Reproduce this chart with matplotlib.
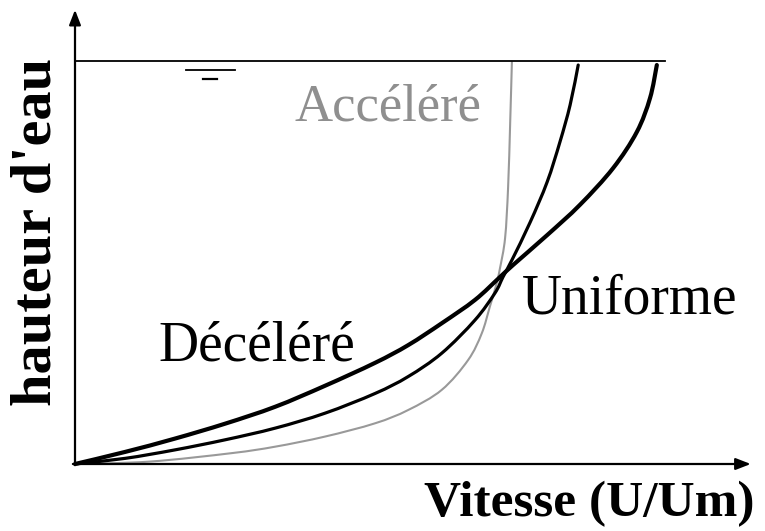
import matplotlib
matplotlib.use("Agg")
import matplotlib.pyplot as plt
from matplotlib.path import Path
from matplotlib.patches import PathPatch

# Velocity profiles (x = U/Um, y = relative water depth)
decel_x = [0, 0.118, 0.235, 0.353, 0.471, 0.588, 0.706, 0.784, 0.864, 0.941, 1.000, 1.031, 1.111, 1.188, 1.266, 1.322, 1.353, 1.369]
decel_y = [0, 0.030, 0.063, 0.100, 0.142, 0.194, 0.251, 0.295, 0.350, 0.407, 0.464, 0.494, 0.568, 0.643, 0.734, 0.824, 0.908, 0.990]

unif_x = [0, 0.118, 0.235, 0.353, 0.471, 0.588, 0.706, 0.784, 0.863, 0.941, 0.988, 1.007, 1.028, 1.071, 1.111, 1.141, 1.165, 1.184]
unif_y = [0, 0.014, 0.035, 0.060, 0.089, 0.126, 0.175, 0.217, 0.275, 0.357, 0.424, 0.464, 0.506, 0.600, 0.700, 0.799, 0.891, 0.990]

accel_x = [0, 0.176, 0.369, 0.471, 0.588, 0.706, 0.784, 0.863, 0.925, 0.957, 0.976, 0.991, 1.000, 1.012, 1.019, 1.024, 1.028]
accel_y = [0, 0.006, 0.027, 0.043, 0.068, 0.101, 0.134, 0.184, 0.258, 0.324, 0.390, 0.444, 0.486, 0.561, 0.685, 0.849, 0.998]

surface_level = 1.0
surface_end = 1.388
labels = ["Accéléré", "Uniforme", "Décéléré"]
xlabel = "Vitesse (U/Um)"
ylabel = "hauteur d'eau"

W, H = 765, 531
fig = plt.figure(figsize=(W / 100, H / 100), dpi=100)
ax = fig.add_axes([0, 0, 1, 1])
ox, oy, sx, sy = 75, 464, 425, 403
ax.set_xlim((0 - ox) / sx, (W - ox) / sx)
ax.set_ylim((oy - H) / sy, oy / sy)
ax.axis("off")

serif = ["Liberation Serif", "DejaVu Serif"]


def smooth_path(xs, ys):
    """Catmull-Rom curve through the points, drawn as cubic Bezier segments."""
    pts = list(zip(xs, ys))
    verts = [pts[0]]
    codes = [Path.MOVETO]
    n = len(pts)
    for i in range(n - 1):
        p0 = pts[i - 1] if i > 0 else pts[i]
        p1 = pts[i]
        p2 = pts[i + 1]
        p3 = pts[i + 2] if i + 2 < n else pts[i + 1]
        c1 = (p1[0] + (p2[0] - p0[0]) / 6, p1[1] + (p2[1] - p0[1]) / 6)
        c2 = (p2[0] - (p3[0] - p1[0]) / 6, p2[1] - (p3[1] - p1[1]) / 6)
        verts += [c1, c2, p2]
        codes += [Path.CURVE4] * 3
    return Path(verts, codes)


# water surface
ax.plot([0, surface_end], [surface_level, surface_level], color="black", lw=1.3)
ax.plot([0.261, 0.376], [0.978, 0.978], color="black", lw=1.3)
ax.plot([0.301, 0.334], [0.955, 0.955], color="black", lw=1.6)

# axes with arrows
ax.annotate("", xy=(1.590, 0), xytext=(-0.005, 0),
            arrowprops=dict(arrowstyle="-|>,head_length=0.9,head_width=0.35", color="black", lw=1.6,
                            shrinkA=0, shrinkB=0))
ax.annotate("", xy=(0, 1.127), xytext=(0, -0.003),
            arrowprops=dict(arrowstyle="-|>,head_length=0.9,head_width=0.35", color="black", lw=1.6,
                            shrinkA=0, shrinkB=0))

# curves
for xs, ys, col, lw in [(accel_x, accel_y, "#999999", 1.5),
                        (unif_x, unif_y, "black", 2.3),
                        (decel_x, decel_y, "black", 3.0)]:
    ax.add_patch(PathPatch(smooth_path(xs, ys), facecolor="none", edgecolor=col, lw=lw,
                           capstyle="round", joinstyle="round"))

# labels
ax.text(0.736, 0.885, labels[0], color="#8f8f8f", fontsize=38, family=serif, ha="center", va="center")
ax.text(1.306, 0.407, labels[1], color="black", fontsize=40, family=serif, ha="center", va="center")
ax.text(0.428, 0.292, labels[2], color="black", fontsize=40, family=serif, ha="center", va="center")
ax.text(1.210, -0.100, xlabel, color="black", fontsize=37, family=serif, fontweight="bold",
        ha="center", va="center")
ax.text(-0.090, 0.576, ylabel, color="black", fontsize=42, family=serif, fontweight="bold",
        ha="center", va="center", rotation=90)

fig.savefig("out.png", dpi=100)
